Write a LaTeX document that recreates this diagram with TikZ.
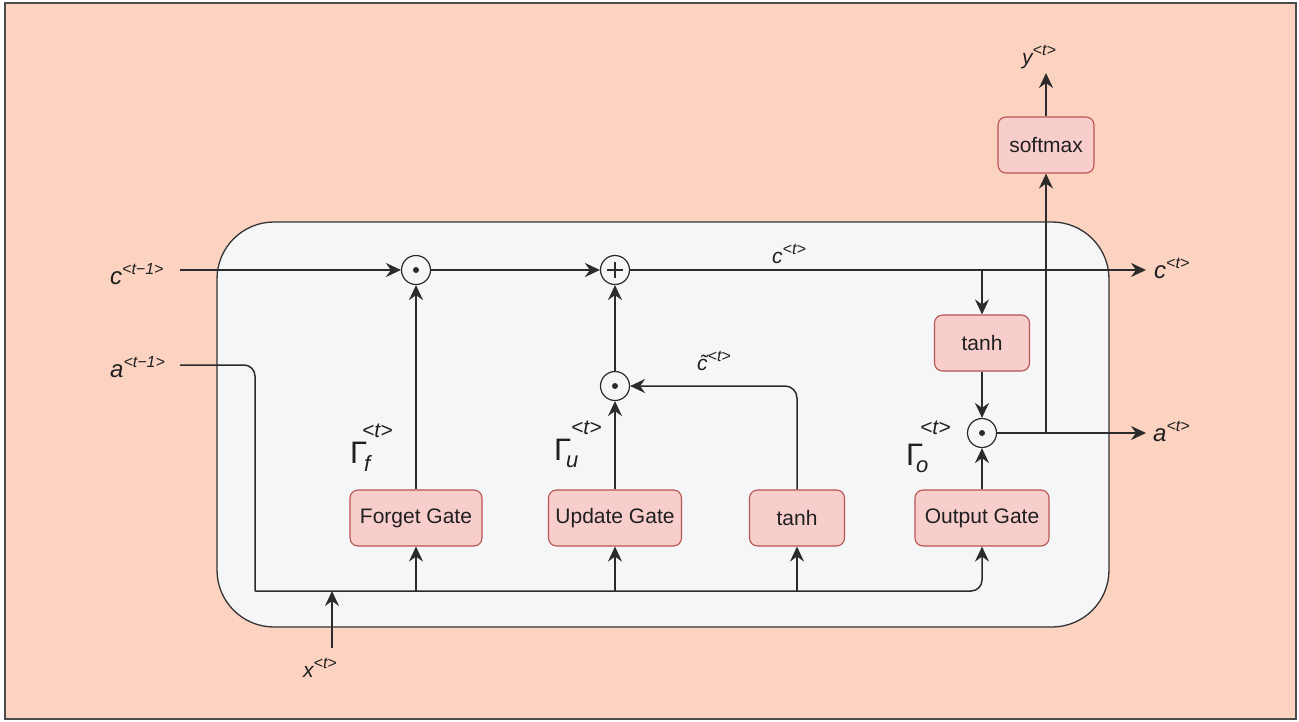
\documentclass[tikz,border=0pt]{standalone}
\usepackage{fontspec}
\setmainfont{Liberation Sans}
\usetikzlibrary{arrows.meta,calc}
\definecolor{pagebg}{RGB}{252,211,193}
\definecolor{cellbg}{RGB}{245,246,248}
\definecolor{gatefill}{HTML}{F8CECC}
\definecolor{gateline}{HTML}{B85450}
\definecolor{wire}{HTML}{2B2B2B}
\newcommand{\fsz}[1]{\fontsize{#1}{#1}\selectfont}
% base letter with a raised superscript
\newcommand{\biglbl}[2]{{\fsz{24}\itshape #1}{\fsz{16}\itshape\raisebox{10pt}{#2}}}
\newcommand{\smlbl}[2]{{\fsz{21}\itshape #1}{\fsz{16}\itshape\raisebox{9pt}{#2}}}

\begin{document}
\begin{tikzpicture}[x=1pt,y=-1pt,
  gatebox/.style={draw=gateline,fill=gatefill,rounded corners=8pt,line width=1.1pt,
    minimum height=56pt,font=\fsz{21},text=black!88,inner sep=0pt},
  wireline/.style={draw=wire,line width=1.5pt},
  arr/.style={wireline,-{Stealth[length=15pt,width=14pt,inset=5pt]}},
  opnode/.style={circle,draw=wire,line width=1.2pt,fill=cellbg,minimum size=29pt,inner sep=0pt},
  dotop/.style={opnode,path picture={\fill[wire] (path picture bounding box.center) circle (3pt);}},
  plusop/.style={opnode,path picture={
      \draw[wire,line width=2pt] ($(path picture bounding box.center)+(-8,0)$) -- ++(16,0)
        ($(path picture bounding box.center)+(0,-8)$) -- ++(0,16);}},
  lbl/.style={inner sep=0pt,anchor=base west,text=black!88},
  gam/.style={lbl,font=\fsz{31}},
  gsub/.style={lbl,font=\fsz{22}\itshape},
  gsup/.style={lbl,font=\fsz{21}\itshape}
]
\useasboundingbox (0,0) rectangle (1299,721);

% page and cell
\draw[draw=black!70,line width=2pt,fill=pagebg] (5,3) rectangle (1296,719);
\draw[draw=black!80,line width=1.3pt,fill=cellbg,rounded corners=57pt] (217,222) rectangle (1109,627);

% gates and activations
\node[gatebox,minimum width=132pt] (fg) at (416,518) {Forget Gate};
\node[gatebox,minimum width=133pt] (ug) at (615,518) {Update Gate};
\node[gatebox,minimum width=95pt]  (th2) at (797,518) {tanh};
\node[gatebox,minimum width=134pt] (og) at (982,518) {Output Gate};
\node[gatebox,minimum width=95pt]  (th1) at (982,343) {tanh};
\node[gatebox,minimum width=96pt]  (sm) at (1046,145) {softmax};

% pointwise operations
\node[dotop]  (m1) at (416,270) {};
\node[plusop] (pl) at (615,270) {};
\node[dotop]  (m2) at (615,386) {};
\node[dotop]  (m3) at (982,433) {};

% outer labels
\node[lbl] (lcp) at (110,284) {\biglbl{c}{<t−1>}};
\node[lbl] (lap) at (110,377) {\biglbl{a}{<t−1>}};
\node[lbl] (lcn) at (1154,278) {\biglbl{c}{<t>}};
\node[lbl] (lan) at (1153,441) {\biglbl{a}{<t>}};
\node[lbl] (lct) at (772,263) {\smlbl{c}{<t>}};
\node[lbl] (lcc) at (697,370) {\smlbl{\~{c}}{<t>}};
\node[lbl] (ly)  at (1022,64) {\smlbl{y}{<t>}};
\node[lbl] (lx)  at (303,677) {\smlbl{x}{<t>}};

% gate activation labels
\node[gam]  (gf)  at (350,463) {Γ};
\node[gsub] (gfs) at (364,471) {f};
\node[gsup] (gft) at (362,437) {<t>};
\node[gam]  (gu)  at (554,460) {Γ};
\node[gsub] (gus) at (566,467) {u};
\node[gsup] (gut) at (571,434) {<t>};
\node[gam]  (go)  at (906,465) {Γ};
\node[gsub] (gos) at (916,472) {o};
\node[gsup] (got) at (920,434) {<t>};

% junction points
\coordinate (cin)  at (180,270);
\coordinate (cout) at (1146,270);
\coordinate (cj)   at (982,270);
\coordinate (aout) at (1146,433);
\coordinate (aj)   at (1046,433);
\coordinate (yout) at (1046,73);
\coordinate (ain)  at (180,365);
\coordinate (k1)   at (255,365);
\coordinate (k2)   at (255,591);
\coordinate (b1)   at (416,591);
\coordinate (b2)   at (615,591);
\coordinate (b3)   at (797,591);
\coordinate (xin)  at (332,648);
\coordinate (xb)   at (332,591);

% cell state path
\draw[arr] (cin) -- (m1);
\draw[arr] (m1) -- (pl);
\draw[arr] (pl) -- (cout);
\draw[arr] (cj) -- (th1);
\draw[arr] (th1) -- (m3);
\draw[arr] (m3) -- (aout);
\draw[arr] (aj) -- (sm);
\draw[arr] (sm) -- (yout);

% gate outputs
\draw[arr] (fg) -- (m1);
\draw[arr] (ug) -- (m2);
\draw[arr] (m2) -- (pl);
\draw[arr] (og) -- (m3);
\draw[arr,rounded corners=12pt] (th2.north) |- (m2);

% input bus
\draw[wireline,rounded corners=11pt] (ain) -- (k1) -- (k2);
\draw[arr,rounded corners=11pt] (k2) -| (og);
\draw[arr] (b1) -- (fg);
\draw[arr] (b2) -- (ug);
\draw[arr] (b3) -- (th2);
\draw[arr] (xin) -- (xb);
\end{tikzpicture}
\end{document}
